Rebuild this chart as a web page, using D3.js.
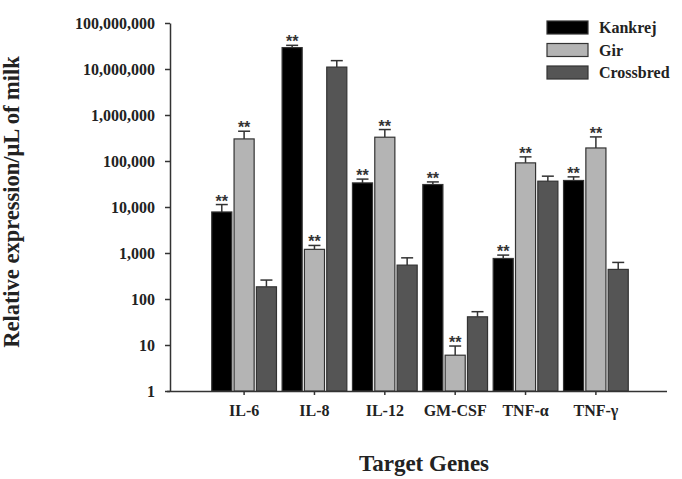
<!DOCTYPE html>
<html>
<head>
<meta charset="utf-8">
<script src="https://cdnjs.cloudflare.com/ajax/libs/d3/7.8.5/d3.min.js"></script>
<style>
  body { margin: 0; background: #fff; }
  text { font-family: "Liberation Serif", "Times New Roman", serif; font-weight: bold; }
</style>
</head>
<body>
<div id="chart"></div>
<script>
//~~~~~~~~~~~~~~~~~~DATA
let genes = ['IL-6', 'IL-8', 'IL-12', 'GM-CSF', 'TNF-α', 'TNF-γ'];
let breeds = ['Kankrej', 'Gir', 'Crossbred'];

//mean expression for each breed, one value per gene
let kankrej = [7800, 29200000, 33400, 30800, 760, 37700];
let gir = [302000, 1200, 329000, 6, 91000, 192000];
let crossbred = [184, 11000000, 545, 41, 36400, 440];

//upper error (SE) for each breed
let kankrejErr = [3500, 3500000, 7000, 4300, 140, 7500];
let girErr = [142000, 260, 154000, 3.5, 32000, 142000];
let crossbredErr = [74, 4200000, 240, 12, 10400, 184];

//significance flags (**)
let kankrejSig = [1, 1, 1, 1, 1, 1];
let girSig = [1, 1, 1, 1, 1, 1];
let crossbredSig = [0, 0, 0, 0, 0, 0];

let yTicks = [1, 10, 100, 1000, 10000, 100000, 1000000, 10000000, 100000000];

let colors = ['#000000', '#b4b4b4', '#555555'];

//~~~~~~~~~~~~~~~~~~VARIABLES
let width = 682;
let height = 479;
let plotLeft = 170, plotRight = 667, plotTop = 23, plotBottom = 391;

let svg = d3.select('#chart')
  .append('svg')
  .attr('width', width)
  .attr('height', height);

//one row per gene and breed
let values = [kankrej, gir, crossbred];
let errs = [kankrejErr, girErr, crossbredErr];
let sigs = [kankrejSig, girSig, crossbredSig];
let rows = [];
genes.forEach(function(g, i) {
  breeds.forEach(function(b, j) {
    rows.push({gene: g, breed: b, value: values[j][i], err: errs[j][i], sig: sigs[j][i], color: colors[j]});
  });
});

//~~~~~~~~~~~~~~~~~~SCALES
let x0 = d3.scaleBand()
  .domain(genes)
  .range([plotLeft + 1.5, plotRight + 1.5])
  .paddingInner(0.08)
  .paddingOuter(0.572);

let x1 = d3.scaleBand()
  .domain(breeds)
  .range([0, x0.bandwidth()])
  .paddingInner(0.1);

let y = d3.scaleLog()
  .domain([1, 100000000])
  .range([plotBottom, plotTop]);

//~~~~~~~~~~~~~~~~~~AXES
let yAxis = svg.append('g')
  .attr('transform', 'translate(' + plotLeft + ',0)')
  .call(d3.axisLeft(y)
    .tickValues(yTicks)
    .tickFormat(d3.format(','))
    .tickSize(5)
    .tickSizeOuter(0)
    .tickPadding(10));

yAxis.selectAll('text')
  .style('font-size', '16px')
  .attr('fill', '#222');

let xAxis = svg.append('g')
  .attr('transform', 'translate(0,' + plotBottom + ')')
  .call(d3.axisBottom(x0).tickSize(4).tickSizeOuter(0).tickPadding(10));

//stretch the x axis line over the full plot width
xAxis.select('.domain').attr('d', 'M' + (plotLeft - 3) + ',0.5H' + plotRight);

xAxis.selectAll('text')
  .style('font-size', '16px')
  .attr('fill', '#222');

svg.selectAll('.domain, .tick line')
  .attr('stroke', '#333')
  .attr('stroke-width', 1.5);

//~~~~~~~~~~~~~~~~~~BARS
let groups = svg.selectAll('.bar')
  .data(rows)
  .enter()
  .append('g')
  .attr('class', 'bar')
  .attr('transform', function(d) { return 'translate(' + (x0(d.gene) + x1(d.breed)) + ',0)'; });

let bw = x1.bandwidth();

//error bar (upper only)
groups.append('line')
  .attr('x1', bw / 2)
  .attr('x2', bw / 2)
  .attr('y1', function(d) { return y(d.value); })
  .attr('y2', function(d) { return y(d.value + d.err); })
  .attr('stroke', '#333')
  .attr('stroke-width', 1.5);

groups.append('line')
  .attr('x1', bw / 2 - 6)
  .attr('x2', bw / 2 + 6)
  .attr('y1', function(d) { return y(d.value + d.err); })
  .attr('y2', function(d) { return y(d.value + d.err); })
  .attr('stroke', '#333')
  .attr('stroke-width', 1.5);

groups.append('rect')
  .attr('x', 0)
  .attr('width', bw)
  .attr('y', function(d) { return y(d.value); })
  .attr('height', function(d) { return plotBottom - y(d.value); })
  .attr('fill', function(d) { return d.color; })
  .attr('stroke', '#333')
  .attr('stroke-width', 1.2);

//significance stars
groups.filter(function(d) { return d.sig; })
  .append('text')
  .attr('x', bw / 2)
  .attr('y', function(d) { return y(d.value + d.err) + 2; })
  .attr('text-anchor', 'middle')
  .style('font-size', '16px')
  .style('font-family', 'Liberation Sans, Arial, sans-serif')
  .attr('fill', '#333')
  .text('**');

//~~~~~~~~~~~~~~~~~~LEGEND
let legend = svg.selectAll('.legend')
  .data(breeds)
  .enter()
  .append('g')
  .attr('class', 'legend')
  .attr('transform', function(d, i) { return 'translate(547,' + (21 + i * 22.5) + ')'; });

legend.append('rect')
  .attr('width', 41)
  .attr('height', 13)
  .attr('fill', function(d, i) { return colors[i]; })
  .attr('stroke', '#333')
  .attr('stroke-width', 1.2);

legend.append('text')
  .attr('x', 52)
  .attr('y', 12)
  .style('font-size', '16px')
  .attr('fill', '#222')
  .text(function(d) { return d; });

//~~~~~~~~~~~~~~~~~~AXIS TITLES
svg.append('text')
  .attr('transform', 'translate(19,202) rotate(-90)')
  .attr('text-anchor', 'middle')
  .style('font-size', '22.5px')
  .attr('fill', '#222')
  .text('Relative expression/μL of milk');

svg.append('text')
  .attr('x', 424)
  .attr('y', 471)
  .attr('text-anchor', 'middle')
  .style('font-size', '23px')
  .attr('fill', '#222')
  .text('Target Genes');
</script>
</body>
</html>
